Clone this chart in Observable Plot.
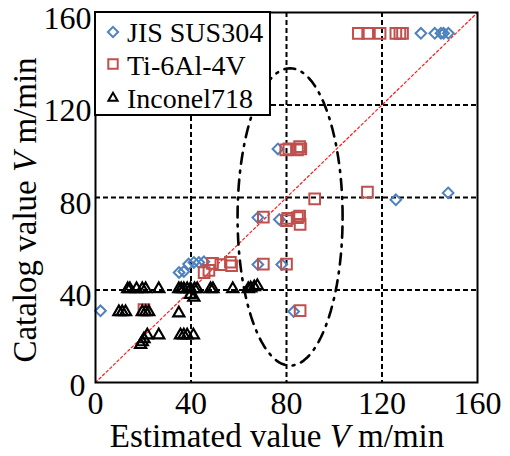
<!DOCTYPE html>
<html>
<head>
<meta charset="utf-8">
<script src="https://cdn.jsdelivr.net/npm/d3@7"></script>
<script src="https://cdn.jsdelivr.net/npm/@observablehq/plot@0.6"></script>
<style>
  html, body { margin: 0; padding: 0; background: white; }
  #chart { width: 510px; height: 456px; }
</style>
</head>
<body>
<div id="chart"></div>
<script>
// ---- Data ----
const seriesNames = ["JIS SUS304", "Ti-6Al-4V", "Inconel718"];

const sus304X = [2.1, 35, 37, 39, 41.2, 43.3, 45.4, 68, 78, 68, 77, 76.4, 83, 125.8, 147.7, 136.3, 142.1, 144.7, 145.8, 147.8];
const sus304Y = [31, 47.6, 48, 51.2, 51.9, 51.9, 52.2, 51, 51, 71.3, 70.5, 101, 30.7, 79, 82, 151, 151, 151, 151, 151];

const tiX = [20.3, 45.5, 47.5, 49, 52.5, 56.5, 57, 70.3, 80, 70.3, 80, 80.5, 84.6, 85.7, 85.5, 91.8, 113.9, 79.7, 81, 84.6, 85.5, 86, 85.7, 110.1, 114, 119.2, 125.8, 127.5, 128.6];
const tiY = [31.5, 47.5, 48.5, 51.5, 51, 52, 50.5, 51.2, 51.2, 71.5, 70, 71, 71.3, 68.4, 72, 79.4, 82.3, 100.6, 101, 100.6, 102, 101, 31.1, 151, 151, 151, 151, 151, 151];

const incX = [13.5, 14.4, 17.2, 19.6, 21, 26.5, 34.9, 35.9, 37, 38.4, 39.8, 41.5, 42.6, 48.2, 49.2, 57.5, 64, 65, 66.5, 67.8, 39.8, 41.2,
              9.8, 11.2, 12.6, 19.6, 21, 22.3, 34.9,
              21.7, 26.5, 35.6, 37, 38.4, 41, 20.3, 19.6, 18.9];
const incY = [40.5, 40.5, 40.5, 40.5, 40.5, 40.5, 40.5, 40.5, 40.5, 40.5, 40.5, 40.5, 40.5, 40.5, 40.5, 40.5, 40.5, 40.8, 41.3, 41.8, 38, 36.8,
              30.5, 30.5, 30.5, 30.5, 30.5, 30.5, 30,
              20.5, 20.5, 20.5, 20.5, 20.5, 20.5, 18.8, 17.5, 16.3];

const xTicks = [0, 40, 80, 120, 160];
const yTicks = [40, 80, 120, 160];
const yZeroTick = [0];
const gridTicks = [40, 80, 120];
const axisDomain = [0, 160];

// dash-dot ellipse annotation: centre and semi-axes (data units)
const ellipseCenter = [81.5, 71.6];
const ellipseRadii = [22, 64.3];

// ---- Build tables ----
const zipPts = (xs, ys) => xs.map((x, i) => ({x, y: ys[i]}));
const sus = zipPts(sus304X, sus304Y);
const ti = zipPts(tiX, tiY);
const inc = zipPts(incX, incY);
const ellipse = d3.range(0, 121).map(i => {
  const t = (i / 120) * 2 * Math.PI;
  return {x: ellipseCenter[0] + ellipseRadii[0] * Math.cos(t), y: ellipseCenter[1] + ellipseRadii[1] * Math.sin(t)};
});

const colors = ["#4f81bd", "#c0504d", "#000000"];
const serif = "'Liberation Serif', 'Times New Roman', Times, serif";

const W = 510, H = 456, mL = 95, mR = 33, mT = 12, mB = 74;

const plot = Plot.plot({
  width: W, height: H,
  marginLeft: mL, marginRight: mR, marginTop: mT, marginBottom: mB,
  style: {fontFamily: serif, fontSize: "32px", background: "white", color: "black", overflow: "visible"},
  x: {domain: axisDomain, label: null},
  y: {domain: axisDomain, label: null},
  marks: [
    Plot.gridX(gridTicks, {stroke: "black", strokeOpacity: 1, strokeWidth: 2, strokeDasharray: "5,3"}),
    Plot.gridY(gridTicks, {stroke: "black", strokeOpacity: 1, strokeWidth: 2, strokeDasharray: "5,3"}),
    Plot.line(axisDomain, {x: d => d, y: d => d, stroke: "#ff1a1a", strokeWidth: 1.2, strokeDasharray: "2.5,2.5"}),
    Plot.line(ellipse, {x: "x", y: "y", stroke: "black", strokeWidth: 2.6, strokeDasharray: "11,7,2,7"}),
    Plot.dot(sus, {x: "x", y: "y", symbol: "diamond2", r: 4.8, stroke: colors[0], strokeWidth: 2, fill: "none"}),
    Plot.dot(ti, {x: "x", y: "y", symbol: "square2", r: 6.8, stroke: colors[1], strokeWidth: 2, fill: "none"}),
    Plot.dot(inc, {x: "x", y: "y", symbol: "triangle2", r: 5.3, stroke: colors[2], strokeWidth: 2.2, fill: "none"}),
    Plot.axisX({ticks: xTicks, tickSize: 0, tickPadding: 9, tickFormat: d => d, label: null, fontSize: 32}),
    Plot.axisY({ticks: yTicks, tickSize: 0, tickPadding: 4, tickFormat: d => d, label: null, fontSize: 32, dy: 6}),
    Plot.axisY({ticks: yZeroTick, tickSize: 0, tickPadding: 10, tickFormat: d => d, label: null, fontSize: 32, dy: 3}),
    Plot.frame({stroke: "black", strokeWidth: 2})
  ]
});

document.getElementById("chart").appendChild(plot);

// ---- Axis titles with italic V, and legend ----
const svg = d3.select(plot);

function title(sel, parts) {
  parts.forEach(([txt, italic]) => {
    const ts = sel.append("tspan").text(txt);
    if (italic) ts.attr("font-style", "italic");
  });
}

const xt = svg.append("text")
  .attr("x", 277).attr("y", 447)
  .attr("text-anchor", "middle")
  .attr("font-family", serif).attr("font-size", 33).attr("fill", "black");
title(xt, [["Estimated value ", false], ["V", true], [" m/min", false]]);

const yt = svg.append("text")
  .attr("transform", "translate(36,210) rotate(-90)")
  .attr("text-anchor", "middle")
  .attr("font-family", serif).attr("font-size", 33).attr("fill", "black");
title(yt, [["Catalog value ", false], ["V", true], [" m/min", false]]);

// legend
const lg = svg.append("g");
lg.append("rect").attr("x", mL).attr("y", mT).attr("width", 175).attr("height", 103)
  .attr("fill", "white").attr("stroke", "black").attr("stroke-width", 2);
const legendSymbols = [d3.symbolDiamond2, d3.symbolSquare2, d3.symbolTriangle2];
const legendSizes = [Math.PI * 4.6 * 4.6, Math.PI * 6.0 * 6.0, Math.PI * 4.4 * 4.4];
const rowMarkY = [32, 64, 98];
const rowTextY = [42, 75, 108];
seriesNames.forEach((name, i) => {
  lg.append("path")
    .attr("d", d3.symbol(legendSymbols[i], legendSizes[i])())
    .attr("transform", `translate(113,${rowMarkY[i]})`)
    .attr("fill", "none").attr("stroke", colors[i]).attr("stroke-width", 2);
  lg.append("text").attr("x", 127).attr("y", rowTextY[i])
    .attr("text-anchor", "start")
    .attr("font-family", serif).attr("font-size", 28).attr("fill", "black")
    .text(name);
});
</script>
</body>
</html>
